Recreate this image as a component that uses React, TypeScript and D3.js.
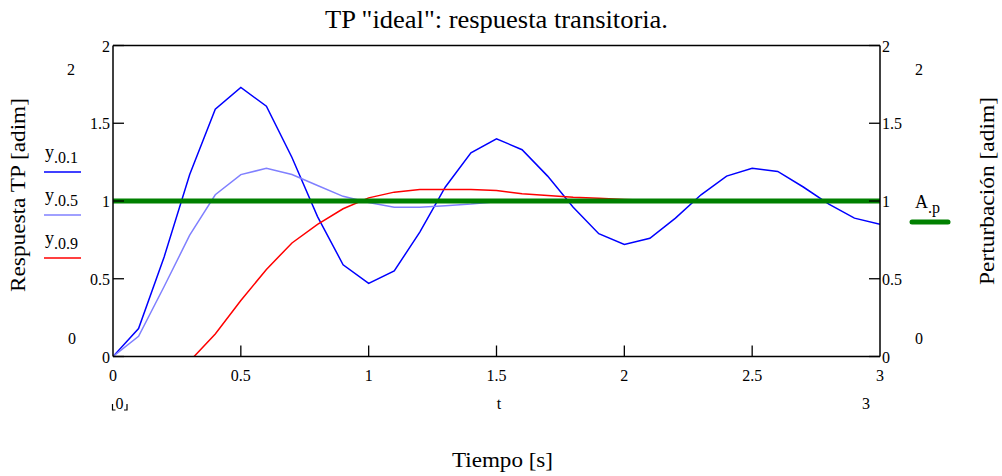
import React from "react";
import * as d3 from "d3";

// Sample times (s)
const tiempo = d3.range(0, 31).map((i) => i / 10);

// Step response for damping 0.1
const y01 = [
  0, 0.18, 0.64, 1.17, 1.59, 1.73, 1.61, 1.28, 0.9, 0.59, 0.47, 0.55, 0.8, 1.09,
  1.31, 1.4, 1.33, 1.16, 0.96, 0.79, 0.72, 0.76, 0.89, 1.04, 1.16, 1.21, 1.19,
  1.09, 0.98, 0.89, 0.85,
];
// Step response for damping 0.5
const y05 = [
  0, 0.13, 0.45, 0.78, 1.04, 1.17, 1.21, 1.17, 1.1, 1.03, 0.99, 0.96, 0.96, 0.97,
  0.98, 0.995, 1.0, 1.0, 1.0, 1.0, 1.0, 1.0, 1.0, 1.0, 1.0, 1.0, 1.0, 1.0, 1.0,
  1.0, 1.0,
];
// Step response for damping 0.9
const y09 = [
  0, -0.05, -0.08, -0.03, 0.145, 0.36, 0.56, 0.73, 0.85, 0.95, 1.02, 1.057, 1.074,
  1.074, 1.074, 1.068, 1.046, 1.035, 1.024, 1.018, 1.01, 1.005, 1.002, 1.0, 1.0,
  1.0, 1.0, 1.0, 1.0, 1.0, 1.0,
];
// Disturbance amplitude
const Ap = tiempo.map(() => 1);

const xTicks = [0, 0.5, 1, 1.5, 2, 2.5, 3];
const yTicks = [0, 0.5, 1, 1.5, 2];

const W = 1002;
const H = 476;
const L = 113;
const R = 880;
const T = 45.5;
const B = 356.5;

const serif = "'Liberation Serif', 'Times New Roman', serif";

export default function App() {
  const x = d3.scaleLinear().domain([0, 3]).range([L, R]);
  const y = d3.scaleLinear().domain([0, 2]).range([B, T]);
  const line = d3
    .line<number>()
    .x((_, i) => x(tiempo[i]))
    .y((d) => y(d));

  const series = [
    { data: y01, color: "#0000ff", w: 1.5 },
    { data: y05, color: "#8080ff", w: 1.5 },
    { data: y09, color: "#ff0000", w: 1.5 },
  ];

  const legend = [
    { name: ".0.1", color: "#0000ff", ty: 158, ly: 172 },
    { name: ".0.5", color: "#8080ff", ty: 201, ly: 215 },
    { name: ".0.9", color: "#ff0000", ty: 244, ly: 258 },
  ];

  return (
    <div style={{ position: "absolute", left: 0, top: 0 }}>
      <svg width={W} height={H} style={{ display: "block", background: "#fff" }} fontFamily={serif}>
        <defs>
          <clipPath id="plot">
            <rect x={L} y={T - 1} width={R - L} height={B - T + 1} />
          </clipPath>
        </defs>

        <text x={496.5} y={28} fontSize={25} textAnchor="middle" textLength={343} lengthAdjust="spacingAndGlyphs">
          TP "ideal": respuesta transitoria.
        </text>

        {/* response curves, disturbance drawn on top */}
        <g clipPath="url(#plot)">
          {series.map((s, i) => (
            <path key={i} d={line(s.data) || ""} fill="none" stroke={s.color} strokeWidth={s.w} />
          ))}
          <path d={line(Ap) || ""} fill="none" stroke="#008000" strokeWidth={5} />
        </g>

        {/* frame */}
        <g stroke="#000" strokeWidth={1.5} fill="none">
          <line x1={L} y1={T} x2={R} y2={T} />
          <line x1={L} y1={B} x2={R} y2={B} />
          <line x1={L} y1={T} x2={L} y2={B} />
          <line x1={R} y1={T} x2={R} y2={B} />
        </g>

        {/* y ticks and labels, both sides */}
        {yTicks.map((v) => (
          <g key={"l" + v}>
            <line x1={L} x2={L + 11} y1={y(v)} y2={y(v)} stroke="#000" strokeWidth={1.3} />
            <text x={L - 3} y={y(v) + 6} fontSize={16} textAnchor="end">
              {v}
            </text>
            <line x1={R - 11} x2={R} y1={y(v)} y2={y(v)} stroke="#000" strokeWidth={1.3} />
            <text x={R + 2} y={y(v) + 6} fontSize={16} textAnchor="start">
              {v}
            </text>
          </g>
        ))}

        {/* x ticks and labels */}
        {xTicks.map((v) => (
          <g key={"b" + v}>
            {v > 0 && v < 3 && (
              <line x1={x(v)} x2={x(v)} y1={B} y2={B - 11} stroke="#000" strokeWidth={1.3} />
            )}
            <text x={x(v)} y={381} fontSize={16} textAnchor="middle">
              {v}
            </text>
          </g>
        ))}

        {/* axis limit markers */}
        <text x={71} y={75} fontSize={16} textAnchor="middle">2</text>
        <text x={72} y={344} fontSize={16} textAnchor="middle">0</text>
        <text x={919} y={75} fontSize={16} textAnchor="middle">2</text>
        <text x={919} y={344} fontSize={16} textAnchor="middle">0</text>
        <text x={119.5} y={409} fontSize={16} textAnchor="middle">0</text>
        <path d="M112.5,404 v6 h3 M127,404 v6 h-3" stroke="#000" strokeWidth={1.2} fill="none" />
        <text x={499} y={409} fontSize={16} textAnchor="middle">t</text>
        <text x={866} y={409} fontSize={16} textAnchor="middle">3</text>

        {/* axis titles */}
        <text x={502.5} y={467} fontSize={20} textAnchor="middle" textLength={101} lengthAdjust="spacingAndGlyphs">
          Tiempo [s]
        </text>
        <text
          transform="translate(25,195) rotate(-90)"
          fontSize={21}
          textAnchor="middle"
          textLength={194}
          lengthAdjust="spacingAndGlyphs"
        >
          Respuesta TP [adim]
        </text>
        <text
          transform="translate(994,191) rotate(-90)"
          fontSize={21}
          textAnchor="middle"
          textLength={188}
          lengthAdjust="spacingAndGlyphs"
        >
          Perturbación [adim]
        </text>

        {/* legends */}
        {legend.map((l) => (
          <g key={l.name}>
            <text x={45} y={l.ty} fontSize={18}>
              y
              <tspan fontSize={16} dy={5}>
                {l.name}
              </tspan>
            </text>
            <line x1={44} x2={81} y1={l.ly} y2={l.ly} stroke={l.color} strokeWidth={1.5} />
          </g>
        ))}
        <text x={915} y={208} fontSize={18}>
          A
          <tspan fontSize={16} dy={5}>
            .p
          </tspan>
        </text>
        <line x1={912} x2={948} y1={222} y2={222} stroke="#008000" strokeWidth={5} strokeLinecap="round" />
      </svg>
    </div>
  );
}
